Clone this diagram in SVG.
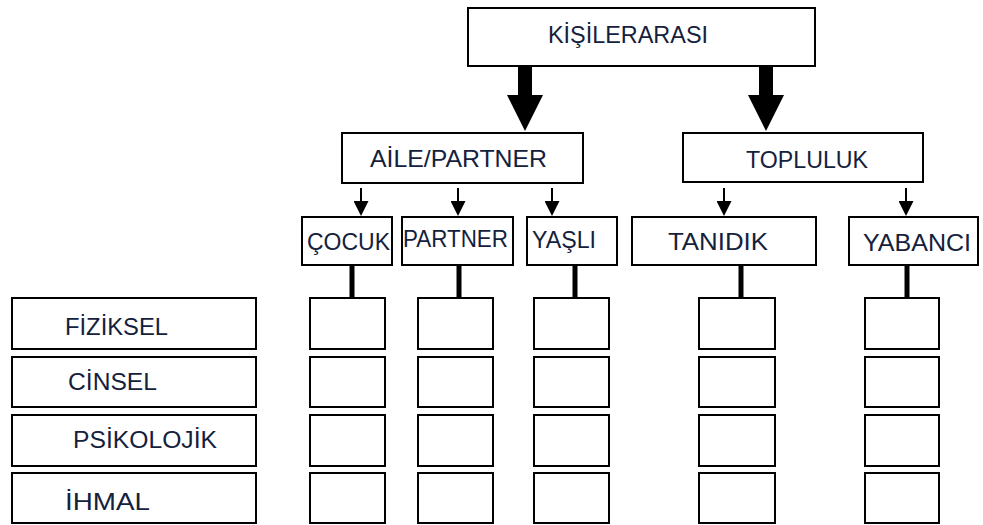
<svg xmlns="http://www.w3.org/2000/svg" width="983" height="525" viewBox="0 0 983 525">
<style>
  .box { fill: #ffffff; stroke: #000000; stroke-width: 2; }
  .lbl { font-family: "Liberation Sans", Arial, sans-serif; font-size: 24px; fill: #14213d; }
  .big { fill: #000000; }
  .thin { stroke: #000000; stroke-width: 2; fill: none; }
  .thick { stroke: #000000; stroke-width: 5; fill: none; }
</style>
<defs>
  <marker id="ah" viewBox="0 0 10 10" refX="0" refY="5" markerWidth="15" markerHeight="15" markerUnits="userSpaceOnUse" orient="auto">
    <path d="M0,0 L10,5 L0,10 z" fill="#000000"/>
  </marker>
</defs>
<rect width="983" height="525" fill="#ffffff"/>

<g id="connectors">
  <polygon class="big" points="518,66 532,66 532,95 543,95 525,131 507,95 518,95"/>
  <polygon class="big" points="759,66 773,66 773,95 784,95 766,131 748,95 759,95"/>
  <line class="thin" x1="361" y1="188" x2="361" y2="201" marker-end="url(#ah)"/>
  <line class="thin" x1="458" y1="188" x2="458" y2="201" marker-end="url(#ah)"/>
  <line class="thin" x1="552" y1="188" x2="552" y2="201" marker-end="url(#ah)"/>
  <line class="thin" x1="724" y1="188" x2="724" y2="201" marker-end="url(#ah)"/>
  <line class="thin" x1="906" y1="188" x2="906" y2="201" marker-end="url(#ah)"/>
  <line class="thick" x1="352" y1="265" x2="352" y2="298"/>
  <line class="thick" x1="459" y1="265" x2="459" y2="298"/>
  <line class="thick" x1="575" y1="265" x2="575" y2="298"/>
  <line class="thick" x1="741" y1="265" x2="741" y2="298"/>
  <line class="thick" x1="907" y1="265" x2="907" y2="298"/>
</g>

<g id="kisilerarasi">
  <rect class="box" x="468" y="8" width="347" height="58"/>
  <text class="lbl" x="548" y="43" textLength="160" lengthAdjust="spacingAndGlyphs">KİŞİLERARASI</text>
</g>
<g id="aile-partner">
  <rect class="box" x="342" y="133" width="241" height="50"/>
  <text class="lbl" x="370" y="167" textLength="177" lengthAdjust="spacingAndGlyphs">AİLE/PARTNER</text>
</g>
<g id="topluluk">
  <rect class="box" x="683" y="133" width="240" height="49"/>
  <text class="lbl" x="746" y="168" textLength="122" lengthAdjust="spacingAndGlyphs">TOPLULUK</text>
</g>
<g id="cocuk">
  <rect class="box" x="302" y="217" width="90" height="48"/>
  <text class="lbl" x="307" y="250" textLength="83" lengthAdjust="spacingAndGlyphs">ÇOCUK</text>
</g>
<g id="partner">
  <rect class="box" x="402" y="217" width="111" height="48"/>
  <text class="lbl" x="403" y="247" textLength="105" lengthAdjust="spacingAndGlyphs">PARTNER</text>
</g>
<g id="yasli">
  <rect class="box" x="527" y="217" width="90" height="48"/>
  <text class="lbl" x="532" y="248" textLength="64" lengthAdjust="spacingAndGlyphs">YAŞLI</text>
</g>
<g id="tanidik">
  <rect class="box" x="632" y="217" width="184" height="48"/>
  <text class="lbl" x="668" y="250" textLength="100" lengthAdjust="spacingAndGlyphs">TANIDIK</text>
</g>
<g id="yabanci">
  <rect class="box" x="849" y="217" width="129" height="48"/>
  <text class="lbl" x="863" y="251" textLength="108" lengthAdjust="spacingAndGlyphs">YABANCI</text>
</g>

<g id="fiziksel">
  <rect class="box" x="12" y="298" width="244" height="51"/>
  <text class="lbl" x="65" y="335" textLength="103" lengthAdjust="spacingAndGlyphs">FİZİKSEL</text>
</g>
<g id="cinsel">
  <rect class="box" x="12" y="357" width="244" height="50"/>
  <text class="lbl" x="68" y="390" textLength="89" lengthAdjust="spacingAndGlyphs">CİNSEL</text>
</g>
<g id="psikolojik">
  <rect class="box" x="12" y="415" width="244" height="51"/>
  <text class="lbl" x="73" y="448" textLength="144" lengthAdjust="spacingAndGlyphs">PSİKOLOJİK</text>
</g>
<g id="ihmal">
  <rect class="box" x="12" y="473" width="244" height="50"/>
  <text class="lbl" x="65" y="510" textLength="85" lengthAdjust="spacingAndGlyphs">İHMAL</text>
</g>

<g id="grid-cocuk">
  <rect class="box" x="310" y="298" width="75" height="51"/>
  <rect class="box" x="310" y="357" width="75" height="50"/>
  <rect class="box" x="310" y="415" width="75" height="51"/>
  <rect class="box" x="310" y="473" width="75" height="50"/>
</g>
<g id="grid-partner">
  <rect class="box" x="418" y="298" width="75" height="51"/>
  <rect class="box" x="418" y="357" width="75" height="50"/>
  <rect class="box" x="418" y="415" width="75" height="51"/>
  <rect class="box" x="418" y="473" width="75" height="50"/>
</g>
<g id="grid-yasli">
  <rect class="box" x="534" y="298" width="75" height="51"/>
  <rect class="box" x="534" y="357" width="75" height="50"/>
  <rect class="box" x="534" y="415" width="75" height="51"/>
  <rect class="box" x="534" y="473" width="75" height="50"/>
</g>
<g id="grid-tanidik">
  <rect class="box" x="699" y="298" width="76" height="51"/>
  <rect class="box" x="699" y="357" width="76" height="50"/>
  <rect class="box" x="699" y="415" width="76" height="51"/>
  <rect class="box" x="699" y="473" width="76" height="50"/>
</g>
<g id="grid-yabanci">
  <rect class="box" x="865" y="298" width="74" height="51"/>
  <rect class="box" x="865" y="357" width="74" height="50"/>
  <rect class="box" x="865" y="415" width="74" height="51"/>
  <rect class="box" x="865" y="473" width="74" height="50"/>
</g>
</svg>
